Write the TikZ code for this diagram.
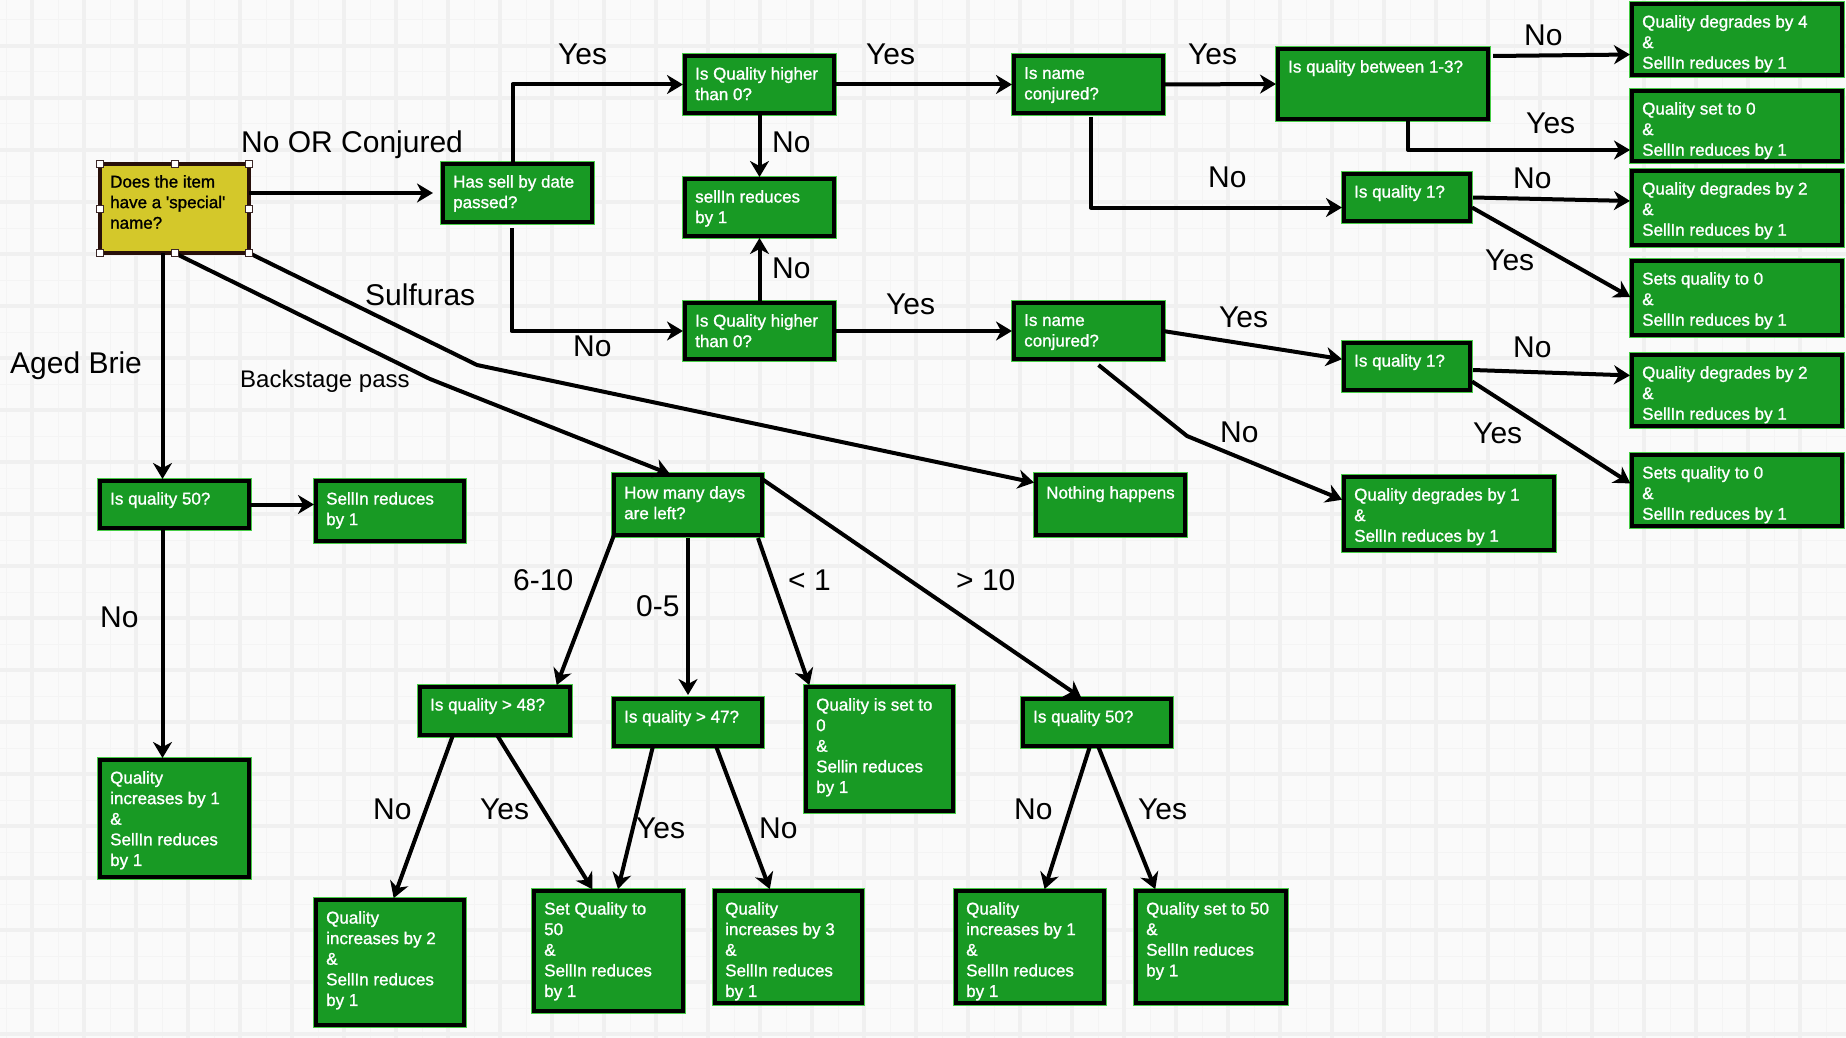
\documentclass[tikz,border=0pt]{standalone}
\usepackage{fontspec}
\setmainfont{Liberation Sans}
\newfontfamily\boxfam[FakeBold=1.2]{Liberation Sans}
\usetikzlibrary{arrows.meta}
\usetikzlibrary{positioning}

\definecolor{boxgreen}{RGB}{24,154,36}
\definecolor{edgegreen}{RGB}{70,205,70}
\definecolor{boxyellow}{RGB}{212,200,42}
\definecolor{yedge}{RGB}{40,16,10}
\definecolor{hcol}{RGB}{60,40,40}
\definecolor{bgcol}{RGB}{250,250,250}
\definecolor{gthick}{RGB}{240,240,240}
\definecolor{gthin}{RGB}{244,244,244}
\newcommand\boxfont{\boxfam\fontsize{17}{20.6}\selectfont}
\newcommand\lblfont{\fontsize{30}{36}\selectfont}
\newcommand\bslblfont{\fontsize{24}{29}\selectfont}

\begin{document}
\begin{tikzpicture}[x=1pt,y=-1pt,
  box/.style={line width=3.5pt,anchor=north west,inner sep=0pt,outer sep=0pt},
  gbox/.style={box,draw=black,fill=boxgreen,preaction={draw=edgegreen,line width=5.5pt}},
  ybox/.style={box,draw=yedge,fill=boxyellow},
  sz/.style 2 args={minimum width=#1pt,minimum height=#2pt},
  wtext/.style={anchor=north west,inner sep=0pt,xshift=10pt,yshift=-11pt,align=left,text=white,font=\boxfont},
  ktext/.style={wtext,text=black},
  conn/.style={line width=4pt,line join=round,shorten >=2pt,-{Stealth[length=16pt,width=19pt,inset=5pt]}},
  lbl/.style={anchor=base west,inner sep=0pt,font=\lblfont},
  handle/.style={draw=hcol,fill=white,line width=1pt,minimum size=7pt,inner sep=0pt},
  gridthin/.style={draw=gthin,line width=1pt},
  gridthick/.style={draw=gthick,line width=3.3pt}]
% Background and grid
\useasboundingbox (0,0) rectangle (1846,1038);
\fill[bgcol] (0,0) rectangle (1846,1038);
\foreach \gx in {6,58,...,1846} \draw[gridthin] (\gx,0) -- (\gx,1038);
\foreach \gy in {20,72,...,1038} \draw[gridthin] (0,\gy) -- (1846,\gy);
\foreach \gx in {32,84,...,1846} \draw[gridthick] (\gx,0) -- (\gx,1038);
\foreach \gy in {46,98,...,1038} \draw[gridthick] (0,\gy) -- (1846,\gy);
% The start question
\node[ybox,sz={149}{89},label={[ktext]north west:{Does the item\\have a \textquotesingle special\textquotesingle\\name?}}] (spec) at (100,164) {};
% Normal and conjured items
\node[gbox,sz={149}{58},label={[wtext]north west:{Has sell by date\\passed?}}] (sell) at (443,164) {};
\node[gbox,sz={149}{57},label={[wtext]north west:{Is Quality higher\\than 0?}}] (qhi1) at (685,56) {};
\node[gbox,sz={149}{57},label={[wtext]north west:{sellIn reduces\\by 1}}] (red1) at (685,179) {};
\node[gbox,sz={149}{56},label={[wtext]north west:{Is Quality higher\\than 0?}}] (qhi2) at (685,303) {};
\node[gbox,sz={149}{57},label={[wtext]north west:{Is name\\conjured?}}] (conj1) at (1014,56) {};
\node[gbox,sz={149}{56},label={[wtext]north west:{Is name\\conjured?}}] (conj2) at (1014,303) {};
\node[gbox,sz={210}{70},label={[wtext]north west:{Is quality between 1-3?}}] (betw) at (1278,49) {};
\node[gbox,sz={210}{71},label={[wtext]north west:{Quality degrades by 4\\\&\\SellIn reduces by 1}}] (deg4) at (1632,4) {};
\node[gbox,sz={210}{70},label={[wtext]north west:{Quality set to 0\\\&\\SellIn reduces by 1}}] (set0a) at (1632,91) {};
\node[gbox,sz={126}{47},label={[wtext]north west:{Is quality 1?}}] (one1) at (1344,174) {};
\node[gbox,sz={210}{74},label={[wtext]north west:{Quality degrades by 2\\\&\\SellIn reduces by 1}}] (deg2a) at (1632,171) {};
\node[gbox,sz={210}{74},label={[wtext]north west:{Sets quality to 0\\\&\\SellIn reduces by 1}}] (set0b) at (1632,261) {};
\node[gbox,sz={126}{47},label={[wtext]north west:{Is quality 1?}}] (one2) at (1344,343) {};
\node[gbox,sz={210}{71},label={[wtext]north west:{Quality degrades by 2\\\&\\SellIn reduces by 1}}] (deg2b) at (1632,355) {};
\node[gbox,sz={210}{71},label={[wtext]north west:{Sets quality to 0\\\&\\SellIn reduces by 1}}] (set0c) at (1632,455) {};
\node[gbox,sz={210}{73},label={[wtext]north west:{Quality degrades by 1\\\&\\SellIn reduces by 1}}] (deg1) at (1344,477) {};
% Sulfuras
\node[gbox,sz={149}{60},label={[wtext]north west:{Nothing happens}}] (nothing) at (1036,475) {};
% Aged Brie
\node[gbox,sz={149}{47},label={[wtext]north west:{Is quality 50?}}] (brie50) at (100,481) {};
\node[gbox,sz={148}{60},label={[wtext]north west:{SellIn reduces\\by 1}}] (brieRed) at (316,481) {};
\node[gbox,sz={149}{117},label={[wtext]north west:{Quality\\increases by 1\\\&\\SellIn reduces\\by 1}}] (brieInc) at (100,760) {};
% Backstage pass
\node[gbox,sz={148}{60},label={[wtext]north west:{How many days\\are left?}}] (days) at (614,475) {};
\node[gbox,sz={150}{48},label={[wtext]north west:{Is quality > 48?}}] (q48) at (420,687) {};
\node[gbox,sz={148}{47},label={[wtext]north west:{Is quality > 47?}}] (q47) at (614,699) {};
\node[gbox,sz={147}{124},label={[wtext]north west:{Quality is set to\\0\\\&\\Sellin reduces\\by 1}}] (zero) at (806,687) {};
\node[gbox,sz={148}{47},label={[wtext]north west:{Is quality 50?}}] (bs50) at (1023,699) {};
\node[gbox,sz={148}{125},label={[wtext]north west:{Quality\\increases by 2\\\&\\SellIn reduces\\by 1}}] (inc2) at (316,900) {};
\node[gbox,sz={149}{120},label={[wtext]north west:{Set Quality to\\50\\\&\\SellIn reduces\\by 1}}] (set50) at (534,891) {};
\node[gbox,sz={147}{112},label={[wtext]north west:{Quality\\increases by 3\\\&\\SellIn reduces\\by 1}}] (inc3) at (715,891) {};
\node[gbox,sz={148}{112},label={[wtext]north west:{Quality\\increases by 1\\\&\\SellIn reduces\\by 1}}] (inc1) at (956,891) {};
\node[gbox,sz={150}{112},label={[wtext]north west:{Quality set to 50\\\&\\SellIn reduces\\by 1}}] (max50) at (1136,891) {};
% Arrows of the upper part
\draw[conn,shorten >=10pt] (spec.east |- sell.west) -- (sell.west);
\draw[conn] ([xshift=-5pt]sell.north) |- (qhi1.west);
\draw[conn] ([xshift=-6pt,yshift=-6pt]sell.south) |- (qhi2.west);
\draw[conn] (qhi1.south) -- (red1.north);
\draw[conn] (qhi2.north) -- (red1.south);
\draw[conn] (qhi1.east) -- (conj1.west);
\draw[conn] (qhi2.east) -- (conj2.west);
\draw[conn] (conj1.east) -- (betw.west);
\draw[conn] ([xshift=2.5pt,yshift=-4pt]conj1.south) |- ([yshift=-10pt]one1.west);
\draw[conn] ([xshift=5pt,yshift=-7pt]betw.north east) -- ([yshift=-15pt]deg4.west);
\draw[conn] ([xshift=25pt]betw.south) |- ([yshift=-24pt]set0a.west);
\draw[conn] ([xshift=3pt]one1.east) -- ([yshift=7pt]deg2a.west);
\draw[conn] ([xshift=2pt,yshift=-10pt]one1.east) -- (set0b.west);
\draw[conn] (conj2.east) -- ([yshift=7pt]one2.west);
\draw[conn] ([xshift=3pt,yshift=-3.5pt]one2.east) -- ([yshift=15pt]deg2b.west);
\draw[conn] ([xshift=2pt,yshift=-15pt]one2.east) -- ([yshift=6pt]set0c.west);
\coordinate (cbend) at (1187,436);
\draw[conn] ([xshift=10pt,yshift=-6pt]conj2.south) -- (cbend) -- ([yshift=13pt]deg1.west);
% Arrows of the lower part
\draw[conn] ([xshift=-12pt]spec.south) -- ([xshift=-12pt]brie50.north);
\draw[conn] (brie50.east) -- (brie50.east -| brieRed.west);
\draw[conn] ([xshift=-12pt]brie50.south) -- ([xshift=-12pt]brieInc.north);
\coordinate (bbend) at (430,379);
\draw[conn] (spec.south) -- (bbend) -- ([xshift=-16pt]days.north);
\coordinate (sbend) at (477,365);
\draw[conn] (spec.south east) -- (sbend) -- ([yshift=22pt]nothing.west);
\draw[conn] (days.south west) -- ([xshift=61pt]q48.north);
\draw[conn,shorten >=4pt] ([yshift=-3pt]days.south) -- (q47.north);
\draw[conn] ([xshift=-4pt,yshift=-3pt]days.south east) -- ([xshift=4pt]zero.north west);
\draw[conn] ([yshift=-4pt]days.north east) -- ([xshift=-14pt]bs50.north);
\draw[conn] ([xshift=-42pt]q48.south) -- ([xshift=3pt]inc2.north);
\draw[conn] ([xshift=2pt]q48.south) -- ([xshift=-15pt]set50.north);
\draw[conn] ([xshift=-35pt]q47.south) -- ([xshift=9pt]set50.north);
\draw[conn] ([xshift=28pt]q47.south) -- ([xshift=-18pt]inc3.north);
\draw[conn] ([xshift=-7pt]bs50.south) -- ([xshift=14pt]inc1.north);
\draw[conn] ([xshift=1pt]bs50.south) -- ([xshift=-55pt]max50.north);
% Selection handles
\foreach \a [count=\i] in {north west,north,north east,west,east,south west,south,south east}
  \node[handle] (hdl\i) at (spec.\a) {};
% Labels
\node[lbl] (lConj) at (241,153) {No OR Conjured};
\node[lbl] (lSulf) at (365,305) {Sulfuras};
\node[lbl] (lBrie) at (10,373) {Aged Brie};
\node[lbl,font=\bslblfont] (lBack) at (240,387) {Backstage pass};
\node[lbl] (lYesA) at (558,65) {Yes};
\node[lbl] (lNoA) at (573,356) {No};
\node[lbl] (lNoB) at (772,153) {No};
\node[lbl] (lNoC) at (772,278) {No};
\node[lbl] (lYesB) at (866,65) {Yes};
\node[lbl] (lYesC) at (886,314) {Yes};
\node[lbl] (lYesD) at (1188,65) {Yes};
\node[lbl] (lNoD) at (1208,187) {No};
\node[lbl] (lNoE) at (1524,46) {No};
\node[lbl] (lYesE) at (1526,134) {Yes};
\node[lbl] (lNoF) at (1513,188) {No};
\node[lbl] (lYesF) at (1485,270) {Yes};
\node[lbl] (lYesG) at (1219,327) {Yes};
\node[lbl] (lNoG) at (1513,357) {No};
\node[lbl] (lYesH) at (1473,443) {Yes};
\node[lbl] (lNoH) at (1220,442) {No};
\node[lbl] (lNoI) at (100,627) {No};
\node[lbl] (lSix) at (513,590) {6-10};
\node[lbl] (lZero) at (636,616) {0-5};
\node[lbl] (lLess) at (788,590) {< 1};
\node[lbl] (lMore) at (956,590) {> 10};
\node[lbl] (lNoJ) at (373,819) {No};
\node[lbl] (lYesJ) at (480,819) {Yes};
\node[lbl] (lYesK) at (636,838) {Yes};
\node[lbl] (lNoK) at (759,838) {No};
\node[lbl] (lNoL) at (1014,819) {No};
\node[lbl] (lYesL) at (1138,819) {Yes};
\end{tikzpicture}
\end{document}
